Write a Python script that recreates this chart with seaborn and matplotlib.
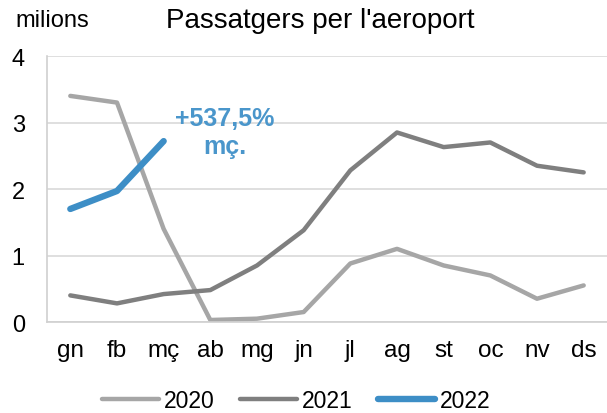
import pandas as pd
import matplotlib.pyplot as plt
import seaborn as sns

# monthly passengers (millions)
mesos = ["gn", "fb", "mç", "ab", "mg", "jn", "jl", "ag", "st", "oc", "nv", "ds"]
any2020 = [3.40, 3.30, 1.40, 0.03, 0.05, 0.15, 0.88, 1.10, 0.85, 0.70, 0.35, 0.55]
any2021 = [0.40, 0.28, 0.42, 0.48, 0.85, 1.38, 2.28, 2.85, 2.63, 2.70, 2.35, 2.25]
any2022 = [1.70, 1.97, 2.72]
y_ticks = [0, 1, 2, 3, 4]

sns.set_style("white")
plt.rcParams["font.family"] = ["Liberation Sans", "DejaVu Sans"]
plt.rcParams["text.color"] = "black"
plt.rcParams["xtick.labelcolor"] = "black"
plt.rcParams["ytick.labelcolor"] = "black"

df20 = pd.DataFrame({"mes": mesos, "valor": any2020})
df21 = pd.DataFrame({"mes": mesos, "valor": any2021})
df22 = pd.DataFrame({"mes": mesos[:len(any2022)], "valor": any2022})

fig = plt.figure(figsize=(6.07, 4.14), dpi=100)
ax = fig.add_axes([0.0774, 0.2198, 0.9226, 0.6425])

sns.lineplot(data=df20, x="mes", y="valor", ax=ax, color="#a6a6a6", linewidth=3.2,
             label="2020", solid_capstyle="round", sort=False)
sns.lineplot(data=df21, x="mes", y="valor", ax=ax, color="#7f7f7f", linewidth=3.2,
             label="2021", solid_capstyle="round", sort=False)
sns.lineplot(data=df22, x="mes", y="valor", ax=ax, color="#3d8ec6", linewidth=4.6,
             label="2022", solid_capstyle="round", sort=False)

ax.set_xlim(-0.5, 11.25)
ax.set_ylim(0, 4)
ax.set_yticks(y_ticks)
ax.set_xticks(range(len(mesos)))
ax.set_xticklabels(mesos)
ax.set_xticks([i - 0.5 for i in range(len(mesos) + 1)], minor=True)
ax.set_xlabel("")
ax.set_ylabel("")

ax.grid(axis="y", color="#d9d9d9", linewidth=1.2)
ax.set_axisbelow(True)
for side in ["top", "right"]:
    ax.spines[side].set_visible(False)
for side in ["left", "bottom"]:
    ax.spines[side].set_color("#d0d0d0")
    ax.spines[side].set_linewidth(1.2)

ax.tick_params(axis="x", which="major", length=0, pad=12, labelsize=17.5)
ax.tick_params(axis="x", which="minor", length=8, width=1.2, color="#d0d0d0")
ax.tick_params(axis="y", length=6, width=1.2, color="#d0d0d0", pad=10, labelsize=17)

ax.text(3.3, 2.86, "+537,5%\nmç.", color="#4a96cb", fontsize=18, fontweight="bold",
        ha="center", va="center", linespacing=1.2)

fig.text(0.527, 0.95, "Passatgers per l'aeroport", fontsize=20, ha="center", va="center")
fig.text(0.025, 0.95, "milions", fontsize=17, ha="left", va="center")

ax.get_legend().remove()
handles, labels = ax.get_legend_handles_labels()
fig.legend(handles, labels, loc="center", bbox_to_anchor=(0.488, 0.03), ncol=3,
           frameon=False, fontsize=16.5, handlelength=2.5, handletextpad=0.2,
           columnspacing=1.1, borderpad=0.1)

fig.savefig("out.png", dpi=100)
